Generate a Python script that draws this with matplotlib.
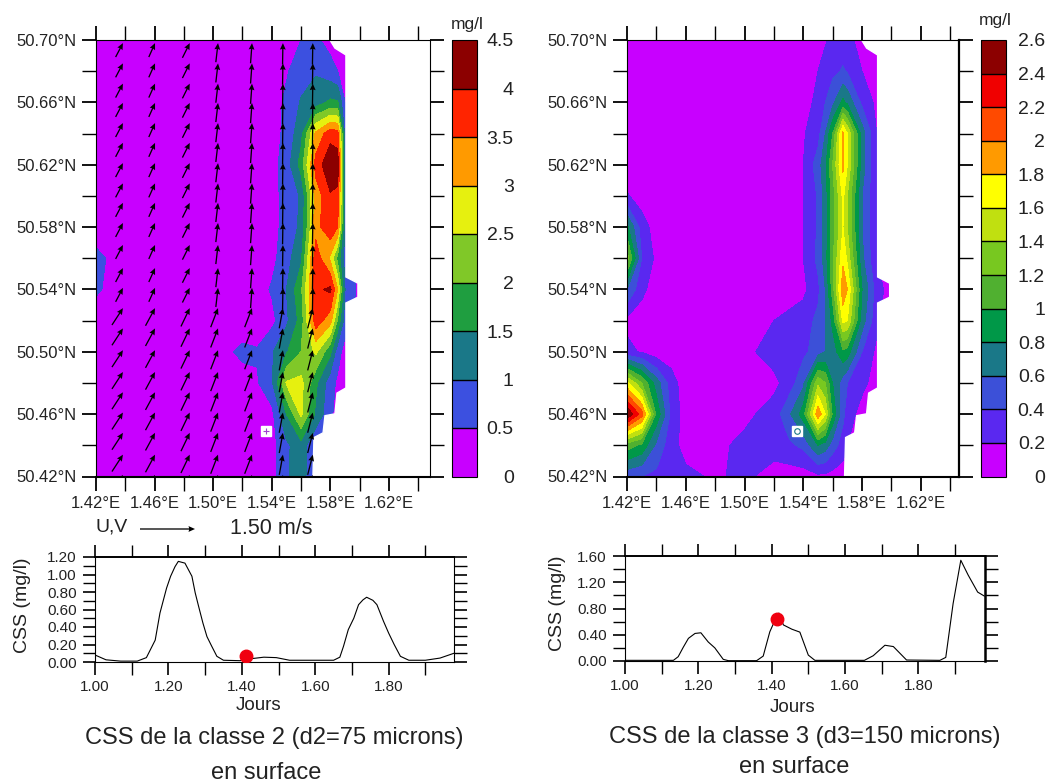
import numpy as np
import matplotlib
matplotlib.use("Agg")
import matplotlib.pyplot as plt
from matplotlib.colors import BoundaryNorm, ListedColormap
from matplotlib.ticker import MultipleLocator

plt.rcParams['font.family'] = ['Liberation Sans', 'DejaVu Sans']

W, H = 1050, 782

# latitudes des lignes des deux tableaux, du nord au sud
lats = [50.70, 50.68, 50.66, 50.64, 50.62, 50.60, 50.58, 50.56, 50.54, 50.52, 50.50, 50.48, 50.46, 50.44, 50.42]

lons2 = [1.42, 1.44, 1.46, 1.48, 1.50, 1.51, 1.52, 1.53, 1.54, 1.55, 1.56, 1.57, 1.58, 1.585, 1.59, 1.60]
css2 = [
    [.1, .1, .1, .1, .1, .1, .1, .1, .15, .25, .5, .6, .3, .25, .2, .2],
    [.1, .1, .1, .1, .1, .1, .1, .1, .2, .45, .75, .95, .7, .5, .3, .2],
    [.1, .1, .1, .1, .1, .1, .1, .1, .25, .6, 1.05, 1.25, 1.6, 1.55, .5, .3],
    [.1, .1, .1, .1, .1, .1, .1, .1, .3, .62, 1.35, 3.1, 3.8, 3.7, .8, .3],
    [.1, .1, .1, .1, .1, .1, .1, .1, .3, .75, 1.7, 3.7, 4.4, 4.3, 1.0, .3],
    [.1, .1, .1, .1, .1, .1, .1, .1, .3, .7, 1.05, 3.2, 3.95, 3.85, 1.0, .3],
    [.1, .1, .1, .1, .1, .1, .1, .1, .3, .7, 1.1, 3.3, 3.9, 3.5, .9, .3],
    [.7, .1, .1, .1, .1, .1, .1, .1, .35, .8, 1.4, 3.8, 2.9, 1.8, .8, .3],
    [.6, .1, .1, .1, .1, .1, .1, .3, .55, 1.0, 1.9, 3.9, 4.1, 3.0, 1.0, .3],
    [.15, .1, .1, .1, .1, .1, .1, .2, .35, .9, 1.7, 3.8, 3.2, 1.9, .75, .3],
    [.1, .1, .1, .1, .2, .4, .65, .55, .95, 1.45, 2.0, 2.6, 1.6, .7, .3, .2],
    [.1, .1, .1, .1, .1, .1, .2, .45, .9, 2.55, 2.65, 1.6, .7, .4, .3, .2],
    [.1, .1, .1, .1, .1, .1, .1, .2, .35, 1.5, 2.6, 1.4, .6, .3, .2, .2],
    [.1, .1, .1, .1, .1, .1, .1, .15, .3, .9, 1.3, .5, .3, .2, .2, .2],
    [.1, .1, .1, .1, .1, .1, .1, .15, .3, .95, 1.2, .6, .3, .2, .2, .2],
]

# CSS classe 3 (mg/l)
lons3 = [1.42, 1.43, 1.44, 1.45, 1.46, 1.48, 1.50, 1.52, 1.53, 1.54, 1.55, 1.555, 1.56, 1.567, 1.57, 1.58, 1.59, 1.60]
css3 = [
    [.08, .08, .08, .08, .08, .08, .08, .08, .08, .08, .1, .18, .25, .3, .28, .1, .08, .08],
    [.08, .08, .08, .08, .08, .08, .08, .08, .08, .08, .2, .28, .35, .42, .38, .2, .1, .08],
    [.08, .08, .08, .08, .08, .08, .08, .08, .08, .12, .25, .4, .55, .85, .75, .35, .15, .08],
    [.08, .08, .08, .08, .08, .08, .08, .08, .08, .18, .32, .6, 1.0, 1.85, 1.6, .7, .2, .08],
    [.08, .08, .08, .08, .08, .08, .08, .08, .1, .2, .5, .75, 1.2, 1.85, 1.6, .7, .2, .08],
    [.22, .1, .08, .08, .08, .08, .08, .08, .1, .2, .42, .7, 1.1, 1.65, 1.4, .6, .2, .08],
    [.85, .3, .1, .08, .08, .08, .08, .08, .1, .2, .42, .7, 1.1, 1.6, 1.4, .6, .2, .08],
    [1.3, .4, .15, .08, .08, .08, .08, .08, .1, .2, .45, .7, 1.15, 1.75, 1.55, .65, .2, .08],
    [.6, .25, .1, .08, .08, .08, .08, .08, .1, .15, .35, .6, 1.1, 1.95, 1.8, .8, .3, .08],
    [.15, .1, .08, .08, .08, .08, .08, .2, .25, .3, .45, .6, .85, 1.65, 1.6, .7, .25, .08],
    [.25, .18, .08, .08, .08, .08, .15, .28, .3, .35, .5, .6, .7, .95, .9, .4, .15, .08],
    [1.65, 1.2, .7, .3, .08, .08, .1, .15, .28, .55, 1.35, 1.2, .8, .5, .4, .25, .12, .08],
    [2.6, 2.1, .95, .35, .1, .1, .15, .28, .55, .9, 1.95, 1.6, .95, .45, .3, .12, .08, .08],
    [1.1, .95, .55, .28, .12, .15, .25, .3, .35, .45, .8, .7, .5, .3, .2, .1, .08, .08],
    [.45, .4, .35, .28, .25, .17, .25, .1, .1, .1, .15, .15, .12, .1, .1, .08, .08, .08],
]

levels2 = [0, .5, 1, 1.5, 2, 2.5, 3, 3.5, 4, 4.5]
labels2 = ['0', '0.5', '1', '1.5', '2', '2.5', '3', '3.5', '4', '4.5']
colors2 = ['#c800ff', '#3c50e0', '#1a7888', '#1f9e40', '#80c828', '#e6f00f', '#ff9a00', '#ff2400', '#8c0000']

levels3 = [0, .2, .4, .6, .8, 1, 1.2, 1.4, 1.6, 1.8, 2, 2.2, 2.4, 2.6]
labels3 = ['0', '0.2', '0.4', '0.6', '0.8', '1', '1.2', '1.4', '1.6', '1.8', '2', '2.2', '2.4', '2.6']
colors3 = ['#c800ff', '#5a28f0', '#3c50d8', '#1a7888', '#009848', '#50b030', '#78c820', '#c0e010',
           '#ffff00', '#ff9a00', '#ff4a00', '#f00000', '#8c0000']

# trait de cote, tout ce qui est a droite reste blanc
coast_lon = [1.5797, 1.5831, 1.5906, 1.5906, 1.5988, 1.5988, 1.5906, 1.5906, 1.5845, 1.5831, 1.5763, 1.5750, 1.5688, 1.5681, 1.70, 1.70]
coast_lat = [50.70, 50.6948, 50.6904, 50.548, 50.544, 50.535, 50.5313, 50.4768, 50.4735, 50.4602, 50.459, 50.448, 50.4450, 50.42, 50.42, 50.70]

# courant : tete des fleches, composantes par colonne (nord / sud du domaine)
arrow_lons = [1.42, 1.4384, 1.4603, 1.484, 1.5033, 1.5265, 1.5476, 1.568]
arrow_lats = [50.698, 50.685, 50.672, 50.6596, 50.6467, 50.634, 50.621, 50.608, 50.5955, 50.5826, 50.5685,
              50.5537, 50.541, 50.528, 50.515, 50.501, 50.487, 50.474, 50.461, 50.448, 50.434, 50.421]
u_north = [.22, .2, .17, .2, .06, .04, .01, .01]
v_north = [.35, .38, .38, .40, .52, .55, .58, .58]
u_south = [.3, .3, .26, .24, .2, .2, .1, .14]
v_south = [.42, .46, .48, .5, .52, .52, .55, .55]

# series temporelles
days2 = [1.0, 1.03, 1.07, 1.115, 1.14, 1.164, 1.177, 1.195, 1.206, 1.218, 1.227, 1.245, 1.264, 1.273, 1.282, 1.294,
         1.305, 1.318, 1.332, 1.35, 1.395, 1.43, 1.46, 1.494, 1.53, 1.595, 1.65, 1.667, 1.677, 1.69, 1.705, 1.718,
         1.73, 1.74, 1.757, 1.768, 1.786, 1.8, 1.815, 1.832, 1.855, 1.9, 1.94, 1.978]
vals2 = [.08, .025, .01, .01, .05, .25, .56, .845, .98, 1.09, 1.15, 1.13, .98, .79, .64, .445,
         .29, .18, .065, .02, .015, .04, .055, .05, .02, .02, .02, .055, .18, .37, .50, .655,
         .71, .74, .705, .655, .465, .33, .2, .065, .02, .02, .045, .10]
days3 = [1.0, 1.132, 1.145, 1.159, 1.173, 1.191, 1.207, 1.227, 1.245, 1.268, 1.282, 1.359, 1.377, 1.395, 1.409, 1.42, 1.432,
         1.455, 1.477, 1.5, 1.518, 1.653, 1.677, 1.709, 1.732, 1.768, 1.859, 1.875, 1.895, 1.916, 1.936, 1.962, 1.98]
vals3 = [.01, .01, .065, .21, .345, .42, .43, .29, .2, .025, .005, .005, .075, .445, .62, .73, .55,
         .485, .44, .09, .01, .01, .08, .24, .22, .015, .01, .055, .875, 1.535, 1.31, 1.05, .99]

lon_ticks = [1.42, 1.46, 1.50, 1.54, 1.58, 1.62]
lon_labels = ['1.42°E', '1.46°E', '1.50°E', '1.54°E', '1.58°E', '1.62°E']
lat_ticks = [50.42, 50.46, 50.50, 50.54, 50.58, 50.62, 50.66, 50.70]
lat_labels = ['50.42°N', '50.46°N', '50.50°N', '50.54°N', '50.58°N', '50.62°N', '50.66°N', '50.70°N']
day_ticks = [1.0, 1.2, 1.4, 1.6, 1.8]
day_labels = ['1.00', '1.20', '1.40', '1.60', '1.80']

station = (1.536, 50.449)
now2 = (1.411, .065)
now3 = (1.415, .645)

fig = plt.figure(figsize=(W / 100, H / 100), dpi=100)


def px_axes(x0, y0, x1, y1):
    return fig.add_axes([x0 / W, 1 - y1 / H, (x1 - x0) / W, (y1 - y0) / H])


def px_text(x, y, s, **kw):
    fig.text(x / W, 1 - y / H, s, ha='center', va='center', color='#222222', **kw)


def draw_map(box, lons, field, levels, colors, xmax, cbox, cbar_labels, pad):
    ax = px_axes(*box)
    cmap = ListedColormap(colors)
    norm = BoundaryNorm(levels, cmap.N)
    cf = ax.contourf(lons, lats, field, levels=levels, cmap=cmap, norm=norm)
    ax.fill(coast_lon, coast_lat, color='white', zorder=2)
    ax.set_xlim(1.42, xmax)
    ax.set_ylim(50.42, 50.70)
    ax.set_xticks(lon_ticks)
    ax.set_xticklabels(lon_labels)
    ax.set_yticks(lat_ticks)
    ax.set_yticklabels(lat_labels)
    ax.xaxis.set_minor_locator(MultipleLocator(.02))
    ax.yaxis.set_minor_locator(MultipleLocator(.02))
    ax.tick_params(which='major', direction='out', top=True, right=True, length=10, width=1.3,
                   labelsize=12, labelcolor='#222222', pad=4)
    ax.tick_params(which='minor', direction='out', top=True, right=True, length=10, width=1)
    ax.spines['bottom'].set_linewidth(1.5)

    cax = px_axes(*cbox)
    cb = fig.colorbar(cf, cax=cax, ticks=levels, drawedges=True)
    cb.ax.set_yticklabels(cbar_labels)
    cb.ax.tick_params(length=0, pad=pad, labelsize=14, labelcolor='#222222')
    for lab in cb.ax.get_yticklabels():
        lab.set_ha('right')
    cb.dividers.set_linewidth(1)
    return ax


def draw_series(box, days, vals, ymax, major, xmax, now, ylabels):
    ax = px_axes(*box)
    ax.plot(days, vals, color='black', lw=.8)
    ax.plot(*now, 'o', color='#f00010', ms=9, zorder=5)
    ax.set_xlim(1.0, xmax)
    ax.set_ylim(0, ymax)
    ax.set_xticks(day_ticks)
    ax.set_xticklabels(day_labels)
    ax.xaxis.set_minor_locator(MultipleLocator(.1))
    ax.set_yticks(np.arange(len(ylabels)) * major)
    ax.set_yticklabels(ylabels)
    ax.yaxis.set_minor_locator(MultipleLocator(major / 2))
    ax.tick_params(which='major', direction='out', top=True, right=True, length=9, width=1.2,
                   labelsize=11, labelcolor='#222222', pad=4)
    ax.tick_params(axis='x', which='major', pad=4)
    ax.tick_params(which='minor', direction='out', top=True, right=True, length=9, width=1)
    ax.spines['top'].set_linewidth(1.4)
    return ax


ax2 = draw_map((96, 40, 430, 476.5), lons2, css2, levels2, colors2, 1.648, (452, 40, 477, 476.5), labels2, 26.5)
ax3 = draw_map((627, 40, 959, 476.5), lons3, css3, levels3, colors3, 1.646, (981, 40, 1006, 476.5), labels3, 28)
ax3.spines['right'].set_linewidth(1.6)

# fleches de courant sur la carte de gauche
arrow_u = np.array([u_north if la > 50.53 else u_south for la in arrow_lats])
arrow_v = np.array([v_north if la > 50.53 else v_south for la in arrow_lats])
q = ax2.quiver(arrow_lons, arrow_lats, arrow_u, arrow_v, angles='uv', pivot='tip', units='dots', width=1.3,
               scale_units='dots', scale=1.5 / 55, headwidth=4.5, headlength=5, headaxislength=4.5,
               color='black', zorder=3)
ax2.quiverkey(q, 195 / W, 1 - 529 / H, 1.5, '1.50 m/s', labelpos='E', coordinates='figure', labelsep=.35,
              fontproperties={'size': 15.5}, labelcolor='#222222')
px_text(112, 527, 'U,V', fontsize=14)

ax2.plot(*station, 's', ms=7, mfc='white', mec='white', zorder=4)
ax2.plot(*station, '+', ms=5, mec='#a040d0', mew=.8, zorder=5)
ax3.plot(*station, 's', ms=7, mfc='white', mec='white', zorder=4)
ax3.plot(*station, 'o', ms=4, mfc='none', mec='#1a7888', mew=.8, zorder=5)

px_text(467, 25, 'mg/l', fontsize=12.5)
px_text(995, 20, 'mg/l', fontsize=12.5)

draw_series((95, 557, 454, 662), days2, vals2, 1.2, .2, 1.978, now2, ['0.00', '0.20', '0.40', '0.60', '0.80', '1.00', '1.20'])
ax_s3 = draw_series((625, 556, 985, 661), days3, vals3, 1.6, .4, 1.982, now3, ['0.00', '0.40', '0.80', '1.20', '1.60'])
ax_s3.spines['right'].set_linewidth(1.8)

px_text(23, 605, 'CSS (mg/l)', fontsize=14, rotation=90)
px_text(558, 603, 'CSS (mg/l)', fontsize=14, rotation=90)
px_text(259, 706, 'Jours', fontsize=13.5)
px_text(793, 708, 'Jours', fontsize=13.5)

px_text(274, 738, 'CSS de la classe 2 (d2=75 microns)', fontsize=17)
px_text(266, 773, 'en surface', fontsize=17)
px_text(805, 737, 'CSS de la classe 3 (d3=150 microns)', fontsize=17)
px_text(794, 767, 'en surface', fontsize=17)

fig.savefig('out.png', dpi=100)
